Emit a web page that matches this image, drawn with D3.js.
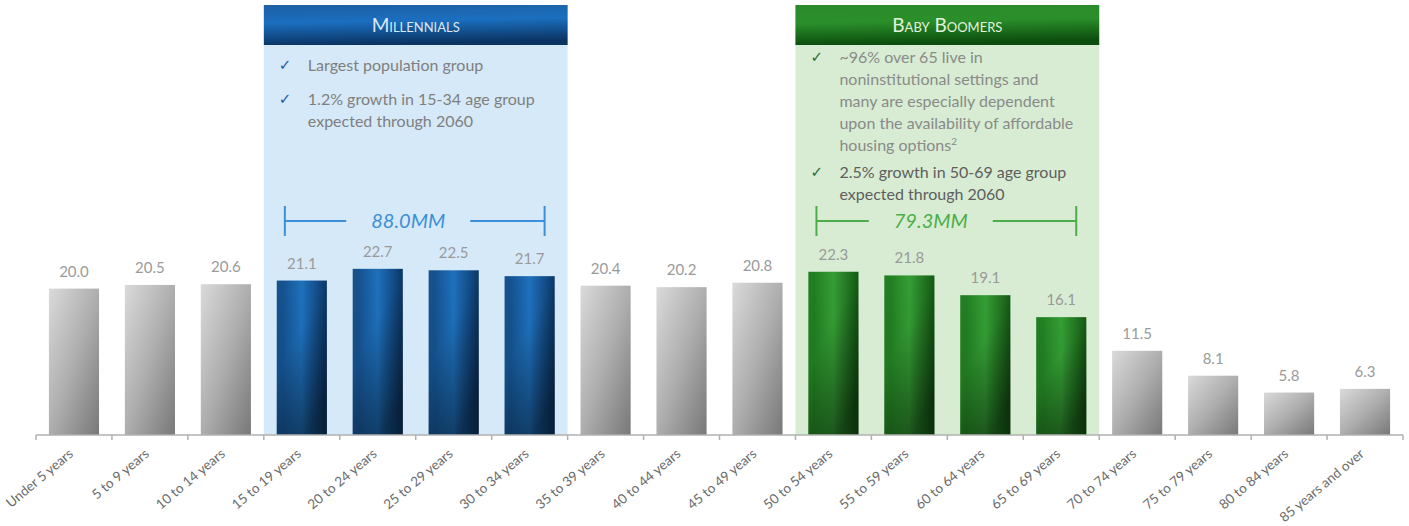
<!DOCTYPE html>
<html>
<head>
<meta charset="utf-8">
<script src="https://cdn.jsdelivr.net/npm/d3@7"></script>
<style>
  html, body { margin: 0; padding: 0; background: #fff; }
  svg { display: block; }
  text { font-family: Lato, "Open Sans", "Liberation Sans", sans-serif; }
</style>
</head>
<body>
<svg id="chart" width="1409" height="526"></svg>
<script>
// US population by age group (millions)
const categories = [
  "Under 5 years", "5 to 9 years", "10 to 14 years", "15 to 19 years",
  "20 to 24 years", "25 to 29 years", "30 to 34 years", "35 to 39 years",
  "40 to 44 years", "45 to 49 years", "50 to 54 years", "55 to 59 years",
  "60 to 64 years", "65 to 69 years", "70 to 74 years", "75 to 79 years",
  "80 to 84 years", "85 years and over"
];
const population = [20.0, 20.5, 20.6, 21.1, 22.7, 22.5, 21.7, 20.4, 20.2,
                    20.8, 22.3, 21.8, 19.1, 16.1, 11.5, 8.1, 5.8, 6.3];

// Highlighted generations: first and last category index covered
const groupNames = ["Millennials", "Baby Boomers"];
const groupKeys = ["blue", "green"];
const groupRanges = [[3, 6], [10, 13]];
const groupTotals = ["88.0MM", "79.3MM"];
const groupBullets = [
  [["Largest population group"],
   ["1.2% growth in 15-34 age group", "expected through 2060"]],
  [["~96% over 65 live in", "noninstitutional settings and",
    "many are especially dependent", "upon the availability of affordable",
    "housing options|2"],
   ["2.5% growth in 50-69 age group", "expected through 2060"]]
];

const svg = d3.select("#chart");
const baseY = 435, axisX0 = 36, axisX1 = 1403;

const x = d3.scaleBand().domain(categories).range([axisX0, axisX1])
  .paddingInner(0.34).paddingOuter(0.17);
const y = d3.scaleLinear().domain([0, 25]).range([baseY, baseY - 25 * 7.32]);
const step = x.step();
const edge = i => axisX0 + i * step;

const theme = {
  blue:  { panel: "#d6e9f8", head: ["#1d5fa2", "#1b6fc0", "#0b3463"],
           bar: ["#15528f", "#1f74c2", "#0c3a6d"], accent: "#3b8fd6",
           check: "#1d5d9c", text: ["#7f7f7f", "#7f7f7f"], headText: "#dbe8f5" },
  green: { panel: "#d7ecd2", head: ["#2b8a2b", "#2a8f2a", "#0c4d0e"],
           bar: ["#227f22", "#36a236", "#155e15"], accent: "#4cae48",
           check: "#2f6b2f", text: ["#8a8a8a", "#5e5e5e"], headText: "#e2f2de" }
};

const defs = svg.append("defs");
function lin(id, x1, y1, x2, y2, stops) {
  const g = defs.append("linearGradient").attr("id", id)
    .attr("x1", x1).attr("y1", y1).attr("x2", x2).attr("y2", y2);
  stops.forEach(([o, c, a]) => g.append("stop").attr("offset", o)
    .attr("stop-color", c).attr("stop-opacity", a == null ? 1 : a));
}
lin("bar-gray", 0, 0, 1, 1, [[0, "#dadada"], [0.5, "#aeaeae"], [1, "#787878"]]);
lin("shade", 0, 0, 0.6, 1, [[0, "#000", 0], [0.45, "#000", 0.05], [1, "#000", 0.5]]);
groupKeys.forEach(k => {
  const t = theme[k];
  lin("bar-" + k, 0, 0, 1, 0, [[0, t.bar[0]], [0.12, t.bar[0]], [0.5, t.bar[1]], [1, t.bar[2]]]);
  lin("head-" + k, 0, 0, 0.15, 1, [[0, t.head[0]], [0.45, t.head[1]], [1, t.head[2]]]);
});

const groupOf = i => groupRanges.findIndex(r => i >= r[0] && i <= r[1]);

// Generation panels
const panelTop = 5, headH = 40;
const panels = svg.append("g").selectAll("g").data(groupNames).join("g");
panels.each(function(name, gi) {
  const g = d3.select(this);
  const t = theme[groupKeys[gi]];
  const px0 = edge(groupRanges[gi][0]), px1 = edge(groupRanges[gi][1] + 1);
  g.append("rect").attr("x", px0).attr("y", panelTop)
    .attr("width", px1 - px0).attr("height", baseY - panelTop).attr("fill", t.panel);
  g.append("rect").attr("x", px0).attr("y", panelTop)
    .attr("width", px1 - px0).attr("height", headH)
    .attr("fill", `url(#head-${groupKeys[gi]})`);
  g.append("text").attr("x", (px0 + px1) / 2).attr("y", panelTop + headH / 2 + 7)
    .attr("text-anchor", "middle").attr("fill", t.headText)
    .style("font-size", "19px").style("font-variant", "small-caps")
    .text(name);

  // bullet points
  const lineH = 22;
  let ly = gi === 0 ? 71 : 63;
  groupBullets[gi].forEach((lines, bi) => {
    g.append("text").attr("x", px0 + 15).attr("y", ly - 1)
      .attr("fill", t.check).style("font-family", "DejaVu Sans")
      .style("font-size", "15px").text("\u2713");
    lines.forEach((ln, li) => {
      const [main, sup] = ln.split("|");
      const tx = g.append("text").attr("x", px0 + 44).attr("y", ly + li * lineH)
        .attr("fill", t.text[bi]).style("font-size", "16px").text(main);
      if (sup) tx.append("tspan").attr("dy", -6).style("font-size", "10px").text(sup);
    });
    ly += lines.length * lineH + (gi === 0 ? 12 : 5);
  });

  // span bracket with group total
  const bx0 = px0 + 21, bx1 = px1 - 23, by = 221;
  const cx = gi === 0 ? bx0 + (bx1 - bx0) * 0.475 : bx0 + (bx1 - bx0) * 0.44;
  const gap = 62;
  const br = g.append("g").attr("stroke", t.accent).attr("stroke-width", 2);
  br.append("line").attr("x1", bx0).attr("x2", bx0).attr("y1", by - 15).attr("y2", by + 15);
  br.append("line").attr("x1", bx1).attr("x2", bx1).attr("y1", by - 15).attr("y2", by + 15);
  br.append("line").attr("x1", bx0).attr("x2", cx - gap).attr("y1", by).attr("y2", by);
  br.append("line").attr("x1", cx + gap).attr("x2", bx1).attr("y1", by).attr("y2", by);
  g.append("text").attr("x", cx).attr("y", by + 7).attr("text-anchor", "middle")
    .attr("fill", t.accent).style("font-size", "20px").style("font-style", "italic")
    .text(groupTotals[gi]);
});

// Bars
const data = categories.map((c, i) => ({ c, v: population[i], g: groupOf(i) }));
const bars = svg.append("g");
bars.selectAll("rect.bar").data(data).join("rect").attr("class", "bar")
  .attr("x", d => x(d.c)).attr("width", x.bandwidth())
  .attr("y", d => y(d.v)).attr("height", d => y(0) - y(d.v))
  .attr("fill", d => d.g < 0 ? "url(#bar-gray)" : `url(#bar-${groupKeys[d.g]})`);
bars.selectAll("rect.shade").data(data.filter(d => d.g >= 0)).join("rect").attr("class", "shade")
  .attr("x", d => x(d.c)).attr("width", x.bandwidth())
  .attr("y", d => y(d.v)).attr("height", d => y(0) - y(d.v))
  .attr("fill", "url(#shade)");

// Value labels
svg.append("g").selectAll("text").data(data).join("text")
  .attr("x", d => x(d.c) + x.bandwidth() / 2).attr("y", d => y(d.v) - 12)
  .attr("text-anchor", "middle").attr("fill", "#9a9a9a")
  .style("font-size", "15px").text(d => d.v.toFixed(1));

// Category axis
const axis = svg.append("g");
axis.append("line").attr("x1", axisX0).attr("x2", axisX1)
  .attr("y1", baseY).attr("y2", baseY).attr("stroke", "#b0b0b0").attr("stroke-width", 1.5);
axis.selectAll("line.tick").data(d3.range(categories.length + 1)).join("line")
  .attr("class", "tick").attr("x1", i => edge(i)).attr("x2", i => edge(i))
  .attr("y1", baseY).attr("y2", baseY + 5).attr("stroke", "#b0b0b0").attr("stroke-width", 1.5);
axis.selectAll("text").data(categories).join("text")
  .attr("transform", c => `translate(${x(c) + x.bandwidth() / 2 - 6},${baseY + 13}) rotate(-40)`)
  .attr("text-anchor", "end").attr("dy", "0.7em")
  .attr("fill", "#6a6a6a").style("font-size", "13.5px").text(c => c);
</script>
</body>
</html>
